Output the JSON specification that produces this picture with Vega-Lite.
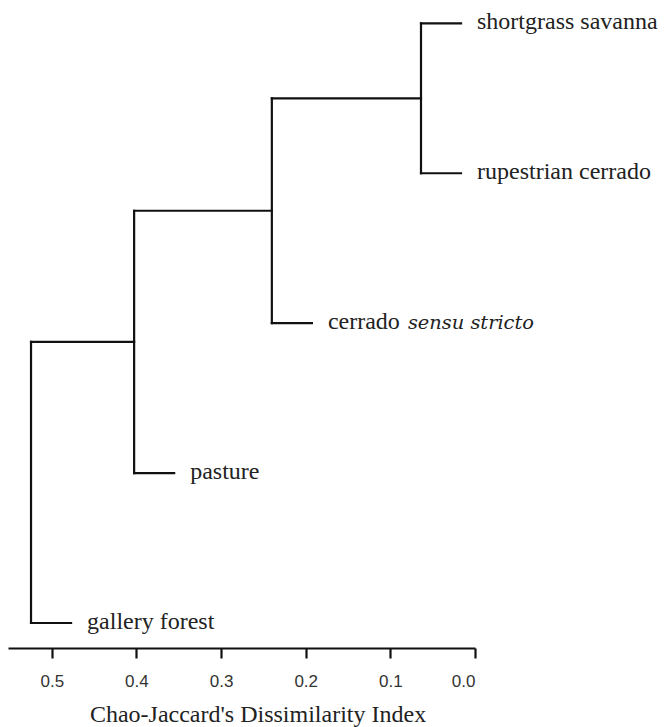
{
  "$schema": "https://vega.github.io/schema/vega-lite/v6.json",
  "width": 467,
  "height": 648,
  "autosize": {"type": "none"},
  "padding": {"left": 8, "top": 0, "right": 190, "bottom": 79},
  "background": "white",
  "config": {"view": {"stroke": null}},
  "datasets": {
    "segments": [
      {"x1": 0.0638, "x2": 0.0165, "y1": 5, "y2": 5},
      {"x1": 0.0638, "x2": 0.0165, "y1": 4, "y2": 4},
      {"x1": 0.0638, "x2": 0.0638, "y1": 4, "y2": 5},
      {"x1": 0.240, "x2": 0.0638, "y1": 4.5, "y2": 4.5},
      {"x1": 0.240, "x2": 0.1927, "y1": 3, "y2": 3},
      {"x1": 0.240, "x2": 0.240, "y1": 3, "y2": 4.5},
      {"x1": 0.4027, "x2": 0.240, "y1": 3.75, "y2": 3.75},
      {"x1": 0.4027, "x2": 0.3554, "y1": 2, "y2": 2},
      {"x1": 0.4027, "x2": 0.4027, "y1": 2, "y2": 3.75},
      {"x1": 0.5245, "x2": 0.4027, "y1": 2.875, "y2": 2.875},
      {"x1": 0.5245, "x2": 0.4772, "y1": 1, "y2": 1},
      {"x1": 0.5245, "x2": 0.5245, "y1": 1, "y2": 2.875}
    ],
    "labels": [
      {"label": "shortgrass savanna", "x": 0.0165, "y": 5},
      {"label": "rupestrian cerrado", "x": 0.0165, "y": 4},
      {"label": "cerrado", "x": 0.1927, "y": 3},
      {"label": "pasture", "x": 0.3554, "y": 2},
      {"label": "gallery forest", "x": 0.4772, "y": 1}
    ],
    "italic": [
      {"label": "sensu stricto", "x": 0.1927, "y": 3}
    ]
  },
  "layer": [
    {
      "data": {"name": "segments"},
      "mark": {"type": "rule", "strokeWidth": 2.2, "color": "#111111", "strokeCap": "square"},
      "encoding": {
        "x": {
          "field": "x1", "type": "quantitative",
          "scale": {"domain": [0, 0.5517], "reverse": true, "nice": false, "zero": false},
          "axis": {
            "values": [0, 0.1, 0.2, 0.3, 0.4, 0.5],
            "format": ".1f",
            "grid": false,
            "domainColor": "#111111",
            "domainWidth": 2.2,
            "tickColor": "#111111",
            "tickWidth": 2.2,
            "tickSize": 10,
            "labelFont": "Liberation Sans",
            "labelFontSize": 17,
            "labelColor": "#333333",
            "labelPadding": 15,
            "title": "Chao-Jaccard's Dissimilarity Index",
            "titleFont": "Liberation Serif",
            "titleFontSize": 24,
            "titleFontWeight": "normal",
            "titleColor": "#222222",
            "titleAlign": "center",
            "titleBaseline": "alphabetic",
            "titleX": 249.5,
            "titleY": 73
          }
        },
        "x2": {"field": "x2"},
        "y": {
          "field": "y1", "type": "quantitative",
          "scale": {"domain": [0.8333, 5.1556], "nice": false, "zero": false},
          "axis": null
        },
        "y2": {"field": "y2"}
      }
    },
    {
      "data": {"name": "labels"},
      "mark": {"type": "text", "align": "left", "baseline": "alphabetic", "dx": 16, "dy": 6, "font": "Liberation Serif", "fontSize": 24, "color": "#222222"},
      "encoding": {
        "x": {"field": "x", "type": "quantitative"},
        "y": {"field": "y", "type": "quantitative"},
        "text": {"field": "label"}
      }
    },
    {
      "data": {"name": "italic"},
      "mark": {"type": "text", "align": "left", "baseline": "alphabetic", "dx": 96, "dy": 6, "font": "DejaVu Serif", "fontSize": 19.4, "fontStyle": "italic", "color": "#222222"},
      "encoding": {
        "x": {"field": "x", "type": "quantitative"},
        "y": {"field": "y", "type": "quantitative"},
        "text": {"field": "label"}
      }
    }
  ]
}
